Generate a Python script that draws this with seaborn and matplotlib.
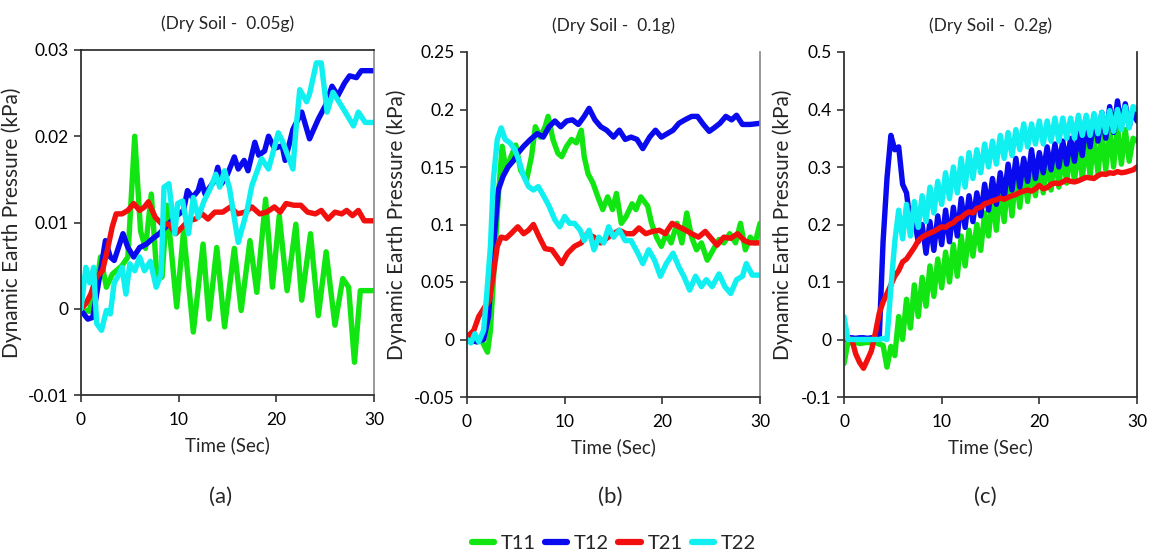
import numpy as np
import pandas as pd
import matplotlib
matplotlib.use("Agg")
import matplotlib.pyplot as plt
import seaborn as sns
from matplotlib.lines import Line2D
from matplotlib.ticker import FuncFormatter, FixedLocator

sns.set_theme(style="white")
plt.rcParams['font.family'] = ['Lato', 'DejaVu Sans']

# ---------------- data ----------------
series_names = ["T11", "T12", "T21", "T22"]
panel_titles = ["(Dry Soil -  0.05g)", "(Dry Soil -  0.1g)", "(Dry Soil -  0.2g)"]
panel_letters = ["(a)", "(b)", "(c)"]
x_ticks = [0, 10, 20, 30]
a_yticks = [-0.01, 0, 0.01, 0.02, 0.03]
b_yticks = [-0.05, 0, 0.05, 0.1, 0.15, 0.2, 0.25]
c_yticks = [-0.1, 0, 0.1, 0.2, 0.3, 0.4, 0.5]

# Panel (a) 0.05g
a_t11_t = [0, 0.8, 1.5, 2.0, 2.6, 3.2, 4.2, 4.8, 5.5, 6.1, 6.6, 7.2, 7.8, 8.3, 8.8, 9.8, 10.5, 11.5, 12.5, 13.1,
           13.9, 14.7, 15.7, 16.4, 17.3, 18.0, 18.9, 19.6, 20.3, 21.1, 22.0, 22.6, 23.5, 24.3, 25.1, 26.0, 26.8, 27.4,
           28.0, 28.6, 30.0]
a_t11_v = [0, -0.0003, 0.002, 0.006, 0.0025, 0.004, 0.005, 0.006, 0.020, 0.009, 0.007, 0.0133, 0.0033, 0.0037,
           0.012, 0.0002, 0.009, -0.0027, 0.0075, -0.0012, 0.0071, -0.0021, 0.0070, -0.0002, 0.0079, 0.0019, 0.0127,
           0.0025, 0.0108, 0.0021, 0.0098, 0.0010, 0.0087, -0.0008, 0.0066, -0.0019, 0.0035, 0.0025, -0.0062, 0.0021,
           0.0021]
a_t12_t = [0, 0.7, 1.2, 2.0, 2.5, 3.0, 3.4, 4.3, 4.8, 5.4, 6.0, 6.7, 7.3, 8.0, 8.7, 9.6, 10.5, 10.9, 11.4, 12.0,
           12.3, 12.7, 13.7, 14.0, 14.4, 15.0, 15.7, 16.1, 16.7, 17.1, 17.8, 18.2, 18.8, 19.2, 19.8, 20.6, 20.9, 21.7,
           22.6, 23.4, 24.3, 25.0, 25.7, 26.3, 27.0, 27.5, 28.2, 28.7, 30.0]
a_t12_v = [-0.0002, -0.0012, -0.001, 0.0044, 0.0079, 0.006, 0.0056, 0.0087, 0.0071, 0.006, 0.0071, 0.0075, 0.0081,
           0.0087, 0.0095, 0.0106, 0.0114, 0.0137, 0.0129, 0.0137, 0.0149, 0.0133, 0.0149, 0.0164, 0.0145, 0.0156,
           0.0176, 0.0162, 0.0172, 0.016, 0.0193, 0.0178, 0.0183, 0.0200, 0.0186, 0.0189, 0.0172, 0.0208, 0.0228,
           0.0197, 0.0220, 0.0235, 0.0258, 0.0247, 0.0262, 0.0270, 0.0268, 0.0276, 0.0276]
a_t21_t = [0, 0.5, 1.0, 1.6, 2.2, 2.7, 3.2, 3.6, 4.2, 4.8, 5.4, 6.0, 6.5, 6.9, 7.6, 8.3, 9.0, 9.7, 10.4, 11.0,
           11.7, 12.4, 13.0, 13.7, 14.5, 15.3, 16.0, 16.8, 17.5, 18.3, 19.0, 19.8, 20.4, 21.0, 21.8, 22.5, 23.2, 24.0,
           24.6, 25.3, 26.0, 26.7, 27.2, 27.8, 28.4, 29.0, 30.0]
a_t21_v = [0, 0.0006, 0.0017, 0.0037, 0.0044, 0.0068, 0.0095, 0.011, 0.011, 0.0114, 0.0122, 0.0114, 0.0118, 0.0124,
           0.0106, 0.0098, 0.0098, 0.0087, 0.0095, 0.0102, 0.0104, 0.011, 0.0104, 0.0112, 0.0112, 0.0118, 0.011,
           0.0112, 0.0118, 0.011, 0.0112, 0.0118, 0.0112, 0.0122, 0.012, 0.012, 0.0112, 0.011, 0.0114, 0.0104, 0.0112,
           0.011, 0.0114, 0.0108, 0.0114, 0.0102, 0.0102]
a_t22_t = [0, 0.5, 0.9, 1.3, 1.6, 2.1, 2.6, 3.0, 3.4, 3.9, 4.2, 4.6, 5.0, 5.5, 6.0, 6.5, 7.1, 7.7, 8.2, 8.5,
           9.0, 9.6, 9.9, 10.4, 11.0, 11.5, 12.0, 12.6, 13.3, 13.8, 14.2, 14.7, 15.2, 16.1, 17.0, 17.5, 18.5, 19.2,
           20.2, 20.6, 21.0, 21.7, 22.0, 22.4, 23.1, 23.4, 24.1, 24.6, 25.2, 25.8, 26.9, 27.9, 28.4, 29.1, 30.0]
a_t22_v = [0, 0.0048, 0.003, 0.0048, -0.0017, -0.0025, -0.0002, -0.0006, 0.003, 0.004, 0.0048, 0.0017, 0.0052,
           0.0044, 0.006, 0.0044, 0.0055, 0.0025, 0.004, 0.0141, 0.0145, 0.0087, 0.0122, 0.0125, 0.0087, 0.0129,
           0.0106, 0.0125, 0.0141, 0.0156, 0.0141, 0.016, 0.0140, 0.0077, 0.0114, 0.0143, 0.0174, 0.0162, 0.0204,
           0.0195, 0.0183, 0.0162, 0.0207, 0.0254, 0.0240, 0.0249, 0.0285, 0.0285, 0.0228, 0.0251, 0.0231, 0.0212,
           0.0228, 0.0216, 0.0216]

# Panel (b) 0.1g
b_t11_t = [0, 0.5, 1.0, 1.5, 2.1, 2.4, 2.8, 3.2, 3.6, 4.0, 4.5, 5.0, 5.5, 6.1, 6.6, 7.0, 7.5, 8.0, 8.3, 8.8,
           9.3, 9.7, 10.2, 10.7, 11.2, 11.7, 12.0, 12.4, 12.9, 13.4, 13.9, 14.4, 14.9, 15.3, 15.8, 16.3, 16.9, 17.3,
           17.8, 18.5, 18.9, 19.4, 19.9, 20.4, 20.9, 21.5, 22.0, 22.5, 23.0, 23.5, 24.0, 24.6, 25.2, 25.8, 26.3,
           26.9, 27.5, 28.0, 28.5, 29.0, 29.5, 30.0]
b_t11_v = [0.002, 0.005, -0.002, -0.001, -0.011, 0.008, 0.066, 0.124, 0.168, 0.147, 0.159, 0.169, 0.147, 0.139,
           0.159, 0.185, 0.176, 0.185, 0.194, 0.174, 0.162, 0.159, 0.168, 0.174, 0.171, 0.182, 0.159, 0.144, 0.136,
           0.124, 0.113, 0.124, 0.113, 0.127, 0.101, 0.107, 0.118, 0.113, 0.124, 0.116, 0.101, 0.089, 0.081, 0.092,
           0.084, 0.101, 0.084, 0.110, 0.089, 0.078, 0.084, 0.069, 0.078, 0.087, 0.084, 0.092, 0.084, 0.101, 0.078,
           0.089, 0.084, 0.101]
b_t12_t = [0, 1.0, 1.7, 2.2, 2.7, 3.2, 3.7, 4.2, 4.8, 5.2, 5.8, 6.5, 7.2, 7.8, 8.4, 9.0, 9.6, 10.2, 10.8, 11.4,
           12.0, 12.5, 13.1, 13.7, 14.3, 15.0, 15.6, 16.2, 16.8, 17.4, 18.0, 18.7, 19.3, 19.9, 20.5, 21.1, 21.7,
           22.3, 23.0, 23.6, 24.2, 24.8, 25.3, 25.9, 26.5, 27.1, 27.6, 28.2, 29.0, 30.0]
b_t12_v = [0, -0.002, 0, 0.02, 0.08, 0.13, 0.142, 0.15, 0.156, 0.162, 0.168, 0.174, 0.179, 0.176, 0.185, 0.19,
           0.185, 0.19, 0.191, 0.187, 0.194, 0.201, 0.191, 0.185, 0.182, 0.176, 0.182, 0.174, 0.176, 0.174, 0.166,
           0.176, 0.182, 0.176, 0.179, 0.182, 0.188, 0.191, 0.194, 0.194, 0.187, 0.181, 0.184, 0.188, 0.194, 0.191,
           0.195, 0.187, 0.187, 0.188]
b_t21_t = [0, 0.7, 1.2, 1.8, 2.3, 2.7, 3.1, 3.5, 4.0, 4.5, 5.2, 5.8, 6.3, 6.8, 7.4, 8.0, 8.7, 9.2, 9.7, 10.3,
           11.0, 11.7, 12.3, 13.0, 13.7, 14.3, 15.0, 15.6, 16.3, 17.0, 17.6, 18.3, 19.0, 19.7, 20.3, 21.0, 21.7,
           22.4, 23.0, 23.7, 24.4, 25.0, 25.6, 26.3, 27.0, 27.7, 28.4, 29.0, 30.0]
b_t21_v = [0.002, 0.008, 0.02, 0.028, 0.034, 0.057, 0.081, 0.089, 0.088, 0.092, 0.098, 0.092, 0.095, 0.1, 0.089,
           0.079, 0.078, 0.072, 0.066, 0.075, 0.081, 0.084, 0.092, 0.089, 0.084, 0.088, 0.092, 0.095, 0.092, 0.092,
           0.097, 0.092, 0.094, 0.095, 0.092, 0.101, 0.098, 0.095, 0.092, 0.089, 0.094, 0.088, 0.082, 0.089, 0.088,
           0.092, 0.086, 0.084, 0.084]
b_t22_t = [0, 0.4, 0.8, 1.2, 1.7, 2.0, 2.4, 2.7, 3.1, 3.5, 3.9, 4.4, 4.9, 5.3, 5.8, 6.3, 6.8, 7.3, 7.9, 8.4,
           9.0, 9.5, 10.0, 10.5, 11.0, 11.6, 12.0, 12.5, 13.0, 13.5, 14.0, 14.5, 15.0, 15.6, 16.2, 16.8, 17.5, 18.0,
           18.6, 19.2, 19.8, 20.4, 21.1, 21.7, 22.2, 22.8, 23.4, 24.0, 24.5, 25.1, 25.8, 26.4, 27.0, 27.6, 28.2,
           28.6, 29.2, 30.0]
b_t22_v = [0, -0.003, 0.005, -0.002, 0.008, 0.037, 0.081, 0.139, 0.174, 0.184, 0.174, 0.171, 0.165, 0.156, 0.142,
           0.133, 0.130, 0.133, 0.124, 0.116, 0.104, 0.098, 0.107, 0.101, 0.101, 0.095, 0.086, 0.095, 0.078, 0.089,
           0.084, 0.098, 0.089, 0.095, 0.086, 0.086, 0.075, 0.066, 0.078, 0.069, 0.055, 0.066, 0.075, 0.063, 0.055,
           0.043, 0.055, 0.046, 0.052, 0.046, 0.057, 0.046, 0.040, 0.052, 0.055, 0.066, 0.056, 0.056]

# Panel (c) 0.2g -- common sampling times
c_t = [0, 0.4, 0.8, 1.2, 1.6, 2.0, 2.4, 2.8, 3.2, 3.6, 4.0, 4.4, 4.8, 5.2, 5.6, 6.0, 6.4, 6.8, 7.2, 7.6,
       8.0, 8.4, 8.8, 9.2, 9.6, 10.0, 10.4, 10.8, 11.2, 11.6, 12.0, 12.4, 12.8, 13.2, 13.6, 14.0, 14.4, 14.8, 15.2,
       15.6, 16.0, 16.4, 16.8, 17.2, 17.6, 18.0, 18.4, 18.8, 19.2, 19.6, 20.0, 20.4, 20.8, 21.2, 21.6, 22.0, 22.4,
       22.8, 23.2, 23.6, 24.0, 24.4, 24.8, 25.2, 25.6, 26.0, 26.4, 26.8, 27.2, 27.6, 28.0, 28.4, 28.8, 29.2, 29.6,
       30.0]
c_t11_v = [-0.042, -0.005, -0.006, -0.005, -0.007, -0.006, -0.005, -0.006, -0.005, -0.008, -0.010, -0.048, -0.012,
           -0.028, 0.040, 0.000, 0.070, 0.020, 0.095, 0.040, 0.108, 0.058, 0.128, 0.075, 0.140, 0.090, 0.152, 0.100,
           0.165, 0.110, 0.180, 0.128, 0.190, 0.145, 0.200, 0.155, 0.220, 0.180, 0.250, 0.190, 0.265, 0.205, 0.280,
           0.215, 0.290, 0.230, 0.300, 0.240, 0.315, 0.250, 0.320, 0.255, 0.320, 0.260, 0.330, 0.265, 0.330, 0.272,
           0.335, 0.275, 0.340, 0.280, 0.345, 0.285, 0.350, 0.290, 0.355, 0.295, 0.365, 0.300, 0.370, 0.305, 0.365,
           0.310, 0.350, 0.345]
c_t12_v = [0.000, 0.003, 0.003, 0.002, 0.003, 0.003, 0.002, 0.003, 0.002, 0.000, 0.170, 0.280, 0.355, 0.330,
           0.335, 0.270, 0.255, 0.200, 0.210, 0.170, 0.200, 0.150, 0.205, 0.155, 0.215, 0.165, 0.225, 0.170, 0.230,
           0.180, 0.245, 0.195, 0.250, 0.205, 0.255, 0.215, 0.270, 0.225, 0.280, 0.235, 0.290, 0.245, 0.305, 0.260,
           0.315, 0.265, 0.315, 0.275, 0.330, 0.280, 0.325, 0.290, 0.335, 0.295, 0.340, 0.300, 0.345, 0.305, 0.350,
           0.310, 0.360, 0.320, 0.380, 0.335, 0.390, 0.345, 0.395, 0.350, 0.405, 0.360, 0.415, 0.370, 0.410, 0.370,
           0.400, 0.380]
c_t21_v = [0.000, 0.002, 0.000, -0.025, -0.040, -0.050, -0.035, -0.020, 0.010, 0.045, 0.065, 0.080, 0.095, 0.110,
           0.120, 0.135, 0.140, 0.150, 0.160, 0.172, 0.178, 0.182, 0.185, 0.188, 0.192, 0.196, 0.195, 0.200, 0.203,
           0.210, 0.212, 0.218, 0.222, 0.220, 0.228, 0.230, 0.236, 0.238, 0.241, 0.243, 0.246, 0.244, 0.247, 0.250,
           0.252, 0.256, 0.258, 0.260, 0.258, 0.262, 0.268, 0.262, 0.264, 0.270, 0.272, 0.271, 0.274, 0.278, 0.275,
           0.274, 0.276, 0.279, 0.282, 0.281, 0.280, 0.285, 0.288, 0.287, 0.290, 0.289, 0.292, 0.290, 0.291, 0.293,
           0.295, 0.300]
c_t22_v = [0.040, 0.000, 0.000, 0.000, 0.000, 0.000, 0.000, 0.000, 0.000, 0.000, 0.002, 0.000, 0.090, 0.170,
           0.225, 0.175, 0.235, 0.180, 0.240, 0.195, 0.250, 0.205, 0.265, 0.220, 0.275, 0.235, 0.290, 0.245, 0.300,
           0.255, 0.315, 0.265, 0.325, 0.280, 0.330, 0.290, 0.340, 0.300, 0.345, 0.305, 0.355, 0.315, 0.360, 0.320,
           0.365, 0.330, 0.375, 0.335, 0.375, 0.340, 0.380, 0.340, 0.380, 0.345, 0.385, 0.345, 0.385, 0.350, 0.385,
           0.350, 0.390, 0.355, 0.390, 0.355, 0.393, 0.358, 0.395, 0.360, 0.398, 0.362, 0.400, 0.365, 0.405, 0.368,
           0.405, 0.400]

panels = [
    {"T11": (a_t11_t, a_t11_v), "T12": (a_t12_t, a_t12_v), "T21": (a_t21_t, a_t21_v), "T22": (a_t22_t, a_t22_v)},
    {"T11": (b_t11_t, b_t11_v), "T12": (b_t12_t, b_t12_v), "T21": (b_t21_t, b_t21_v), "T22": (b_t22_t, b_t22_v)},
    {"T11": (c_t, c_t11_v), "T12": (c_t, c_t12_v), "T21": (c_t, c_t21_v), "T22": (c_t, c_t22_v)},
]
yticks_all = [a_yticks, b_yticks, c_yticks]

colors = {"T11": "#12e612", "T12": "#0a0aee", "T21": "#f2100f", "T22": "#10f0f0"}

# ---------------- figure ----------------
fig = plt.figure(figsize=(11.51, 5.57), dpi=100)
fig.patch.set_facecolor("white")
W, H = 1151, 557
boxes = [(81, 50, 374, 395), (467, 52, 760, 397), (844, 52, 1137, 397)]
ylabel_x = [22, 407, 793]
letter_x = [221, 610, 985]

for i, (x0, y0, x1, y1) in enumerate(boxes):
    ax = fig.add_axes([x0 / W, 1 - y1 / H, (x1 - x0) / W, (y1 - y0) / H])
    rows = []
    for s in series_names:
        tt, vv = panels[i][s]
        rows.append(pd.DataFrame({"time": tt, "value": vv, "series": s}))
    df = pd.concat(rows, ignore_index=True)
    sns.lineplot(data=df, x="time", y="value", hue="series", hue_order=series_names,
                 palette=colors, estimator=None, sort=False, lw=3.9, legend=False, ax=ax,
                 solid_capstyle="round", solid_joinstyle="round")
    yt = yticks_all[i]
    ax.set_xlim(0, 30)
    ax.set_ylim(yt[0], yt[-1])
    ax.xaxis.set_major_locator(FixedLocator(x_ticks))
    ax.yaxis.set_major_locator(FixedLocator(yt))
    ax.yaxis.set_major_formatter(FuncFormatter(lambda v, p: f"{round(v, 4):g}"))
    ax.xaxis.set_major_formatter(FuncFormatter(lambda v, p: f"{v:g}"))
    ax.tick_params(axis="both", which="major", bottom=True, left=True, direction="out",
                   length=5, width=1.2, color="#333333", labelsize=12.5, labelcolor="black")
    ax.tick_params(axis="x", pad=7)
    ax.tick_params(axis="y", pad=4)
    ax.set_xlabel("Time (Sec)", fontsize=13.5, labelpad=6)
    ax.set_ylabel("Dynamic Earth Pressure (kPa)", fontsize=15)
    ax.yaxis.set_label_coords((ylabel_x[i] - x0) / (x1 - x0), 0.5)
    ax.set_title(panel_titles[i], fontsize=12.5, pad=15)
    for side in ["left", "bottom"]:
        ax.spines[side].set_color("#333333")
        ax.spines[side].set_linewidth(1.3)
    ax.spines["right"].set_color("#888888" if i < 2 else "#222222")
    ax.spines["right"].set_linewidth(1.2)
    ax.spines["top"].set_visible(i == 0)
    ax.spines["top"].set_color("#222222")
    ax.spines["top"].set_linewidth(1.2)
    ax.grid(False)
    fig.text(letter_x[i] / W, 1 - 497 / H, panel_letters[i], ha="center", va="center", fontsize=16)

handles = [Line2D([0], [0], color=colors[s], lw=4.5, solid_capstyle="round") for s in series_names]
fig.legend(handles, series_names, loc="center", bbox_to_anchor=(614 / W, 1 - 543 / H), ncol=4,
           frameon=False, fontsize=14.5, handlelength=1.1, columnspacing=0.45, handletextpad=0.35)

fig.savefig("out.png", dpi=100, facecolor="white")
